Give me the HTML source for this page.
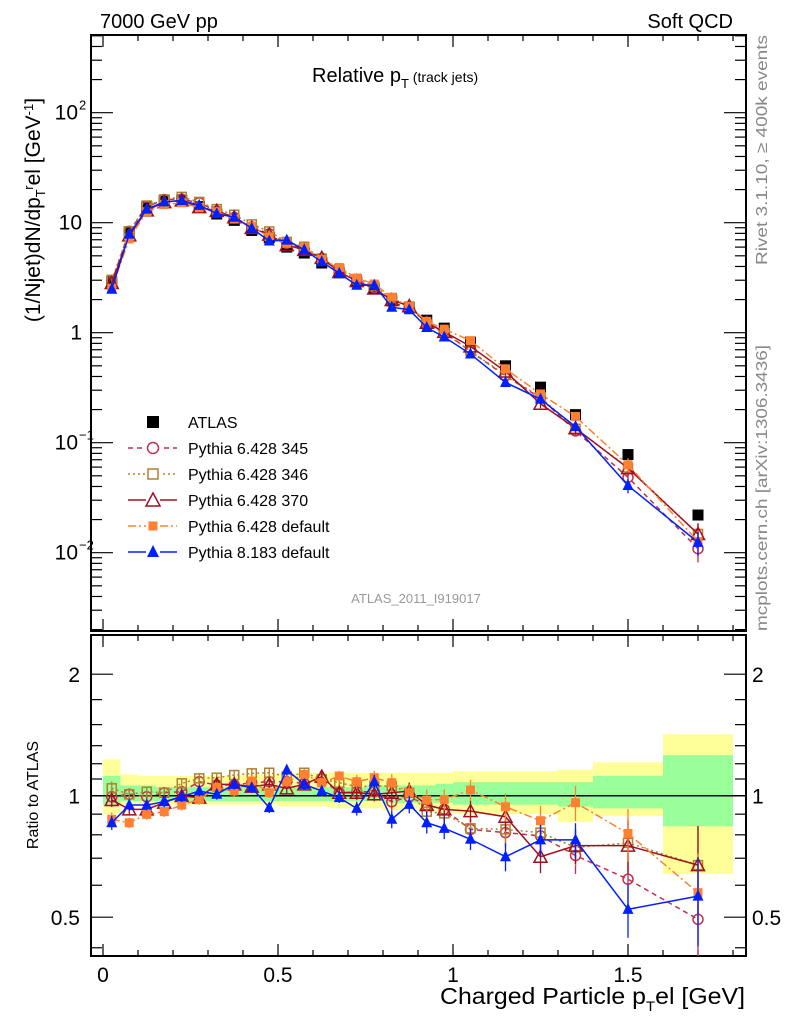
<!DOCTYPE html>
<html><head><meta charset="utf-8"><style>
body{margin:0;background:#fff;width:786px;height:1024px;overflow:hidden}
svg text{font-family:"Liberation Sans",sans-serif}
</style></head><body>
<svg id="c" width="786" height="1024" xmlns="http://www.w3.org/2000/svg"></svg>
<script>
const xCenters=[0.025,0.075,0.125,0.175,0.225,0.275,0.325,0.375,0.425,0.475,0.525,0.575,0.625,0.675,0.725,0.775,0.825,0.875,0.925,0.975,1.05,1.15,1.25,1.35,1.5,1.7];
const binEdges=[0,0.05,0.1,0.15,0.2,0.25,0.3,0.35,0.4,0.45,0.5,0.55,0.6,0.65,0.7,0.75,0.8,0.85,0.9,0.95,1.0,1.1,1.2,1.3,1.4,1.6,1.8];
const atlasValues=[2.9,8.3,14,16,16,14,12,10.5,8.5,7.3,6.0,5.3,4.3,3.5,2.9,2.5,1.95,1.7,1.3,1.1,0.82,0.5,0.32,0.18,0.078,0.022];
const ratio345=[0.994,1.008,0.994,1.017,1.023,1.083,1.063,1.063,1.077,1.083,1.083,1.073,1.098,1.017,1.023,1.023,0.966,0.994,0.948,0.925,0.825,0.810,0.795,0.711,0.621,0.494];
const ratio346=[1.043,1.008,1.023,1.017,1.073,1.104,1.108,1.125,1.136,1.140,1.115,1.140,1.098,1.077,1.053,1.057,1.057,1.017,0.913,0.904,0.830,0.825,0.810,0.744,0.764,0.673];
const ratio370=[0.976,0.925,0.925,0.961,0.998,0.989,1.067,1.067,1.053,1.067,1.043,1.067,1.115,1.017,1.017,1.008,1.017,1.027,0.948,0.925,0.916,0.887,0.706,0.752,0.752,0.673];
const ratioP6def=[0.874,0.857,0.899,0.913,0.948,0.979,1.047,1.027,1.087,1.017,1.083,1.129,1.077,1.119,1.083,1.108,1.077,1.017,0.976,0.979,1.033,0.939,0.867,0.961,0.806,0.575];
const ratioP8=[0.857,0.948,0.948,0.966,0.994,1.027,1.008,1.067,1.047,0.934,1.158,1.067,1.027,0.989,0.930,1.083,0.874,0.952,0.857,0.830,0.780,0.706,0.777,0.777,0.523,0.564];
const mcErr=[0.04,0.03,0.03,0.03,0.03,0.03,0.03,0.03,0.03,0.03,0.03,0.03,0.03,0.03,0.04,0.04,0.05,0.05,0.06,0.06,0.06,0.08,0.09,0.1,0.15,0.25];
const yellowUp=[1.23,1.13,1.12,1.12,1.12,1.12,1.12,1.12,1.13,1.13,1.14,1.14,1.14,1.14,1.14,1.14,1.14,1.14,1.14,1.14,1.15,1.15,1.15,1.16,1.21,1.42];
const yellowDn=[0.90,0.95,0.95,0.95,0.95,0.95,0.95,0.95,0.95,0.95,0.94,0.94,0.94,0.93,0.93,0.93,0.92,0.92,0.92,0.91,0.90,0.90,0.90,0.86,0.89,0.64];
const greenUp=[1.12,1.06,1.06,1.05,1.05,1.05,1.05,1.05,1.05,1.05,1.05,1.05,1.05,1.05,1.05,1.06,1.06,1.06,1.06,1.07,1.08,1.08,1.08,1.08,1.12,1.26];
const greenDn=[0.95,0.97,0.97,0.97,0.97,0.97,0.97,0.97,0.97,0.97,0.97,0.97,0.97,0.97,0.97,0.97,0.96,0.96,0.96,0.96,0.95,0.95,0.95,0.94,0.93,0.84];
const xTickLabels=["0","0.5","1","1.5"];

const NS="http://www.w3.org/2000/svg",svg=document.getElementById('c');
function el(t,a,p){const e=document.createElementNS(NS,t);for(const k in a)e.setAttribute(k,a[k]);(p||svg).appendChild(e);return e;}
const L=91,R=746,MT=35,MB=631,RT=635,RB=956;
const X=v=>103+v*350;
const Ym=v=>332.7-Math.log10(v)*110;
const Yr=v=>795.7-Math.log2(v)*121.5;
const defs=el('defs',{});
const c1=el('clipPath',{id:'cm'},defs);el('rect',{x:L,y:MT,width:R-L,height:MB-MT},c1);
const c2=el('clipPath',{id:'cr'},defs);el('rect',{x:L,y:RT,width:R-L,height:RB-RT},c2);
const gB=el('g',{'clip-path':'url(#cr)'});

for(let i=0;i<xCenters.length;i++){
 const x0=X(binEdges[i]),x1=X(binEdges[i+1]);
 const y=el('rect',{x:x0,y:Yr(yellowUp[i]),width:x1-x0,height:Yr(yellowDn[i])-Yr(yellowUp[i]),fill:'#ffff99'},gB);
 
 const g=el('rect',{x:x0,y:Yr(greenUp[i]),width:x1-x0,height:Yr(greenDn[i])-Yr(greenUp[i]),fill:'#99ff99'},gB);
 
}
el('line',{x1:L,x2:R,y1:Yr(1),y2:Yr(1),stroke:'#000','stroke-width':1.5});
for(const [t,b] of [[MT,MB],[RT,RB]]){
 const f=el('rect',{x:L,y:t,width:R-L,height:b-t,fill:'none',stroke:'#000','stroke-width':2});
 
 for(let v=0;v<=1.8001;v+=0.1){const x=X(v);const maj=Math.abs(v*2-Math.round(v*2))<1e-6;const s=maj?12:6;
  el('line',{x1:x,x2:x,y1:t,y2:t+s,stroke:'#000','stroke-width':1.2});
  el('line',{x1:x,x2:x,y1:b,y2:b-s,stroke:'#000','stroke-width':1.2});}
}
for(let d=-3;d<=2;d++)for(let m=1;m<10;m++){const v=m*Math.pow(10,d);const y=Ym(v);if(y<MT||y>MB)continue;const s=m==1?22:11;
 el('line',{x1:L,x2:L+s,y1:y,y2:y,stroke:'#000','stroke-width':1.2});el('line',{x1:R,x2:R-s,y1:y,y2:y,stroke:'#000','stroke-width':1.2});}
const ylabs=[[100,'10','2'],[10,'10',''],[1,'1',''],[0.1,'10','−1'],[0.01,'10','−2']];
for(const [v,b,e] of ylabs){const t=el('text',{x:e?78:82,y:Ym(v)+7,'font-size':21,'text-anchor':'end'});t.textContent=b;
 
 if(e){const s=el('text',{x:79,y:Ym(v)-3,'font-size':13});s.textContent=e;}}
for(const v of [0.42,0.5,0.6,0.7,0.8,0.9,1,1.1,1.2,1.33,1.5,1.73,2]){const y=Yr(v);const maj=(v==0.5||v==1||v==2);const s=maj?22:11;
 el('line',{x1:L,x2:L+s,y1:y,y2:y,stroke:'#000','stroke-width':1.2});el('line',{x1:R,x2:R-s,y1:y,y2:y,stroke:'#000','stroke-width':1.2});}
for(const v of [0.5,1,2]){const t=el('text',{x:80,y:Yr(v)+8,'font-size':21,'text-anchor':'end'});t.textContent=String(v);
 
 const t2=el('text',{x:752,y:Yr(v)+8,'font-size':21});t2.textContent=String(v);}
xTickLabels.forEach((s,i)=>{const t=el('text',{x:X(i*0.5),y:982,'font-size':21,'text-anchor':'middle'});t.textContent=s;
 });
function marker(type,x,y,col,g,sz){sz=sz||5.5;
 if(type=='sq')return el('rect',{x:x-sz,y:y-sz,width:2*sz,height:2*sz,fill:col},g);
 if(type=='osq')return el('rect',{x:x-sz+1,y:y-sz+1,width:2*sz-2,height:2*sz-2,fill:'none',stroke:col,'stroke-width':1.5},g);
 if(type=='oc')return el('circle',{cx:x,cy:y,r:sz-0.5,fill:'none',stroke:col,'stroke-width':1.5},g);
 if(type=='otri')return el('polygon',{points:`${x},${y-sz-1} ${x-sz-1},${y+sz} ${x+sz+1},${y+sz}`,fill:'none',stroke:col,'stroke-width':1.5},g);
 if(type=='fsq')return el('rect',{x:x-4.5,y:y-4.5,width:9,height:9,fill:col},g);
 if(type=='tri')return el('polygon',{points:`${x},${y-sz-1} ${x-sz},${y+sz-1} ${x+sz},${y+sz-1}`,fill:col},g);}
const series=[
 {name:'Pythia 6.428 345',r:ratio345,col:'#c03050',dash:'5,4',m:'oc',id:'p6-345'},
 {name:'Pythia 6.428 346',r:ratio346,col:'#b08030',dash:'2,3',m:'osq',id:'p6-346'},
 {name:'Pythia 6.428 370',r:ratio370,col:'#a01020',dash:'',m:'otri',id:'p6-370'},
 {name:'Pythia 6.428 default',r:ratioP6def,col:'#ff8030',dash:'8,3,2,3',m:'fsq',id:'p6-default'},
 {name:'Pythia 8.183 default',r:ratioP8,col:'#0020ff',dash:'',m:'tri',id:'p8-default'}];
const gA=el('g',{'clip-path':'url(#cm)'});
xCenters.forEach((x,i)=>{const p=marker('sq',X(x),Ym(atlasValues[i]),'#000',gA);});
series.forEach(s=>{
 const gm=el('g',{'clip-path':'url(#cm)'});
 const gr=el('g',{'clip-path':'url(#cr)'});
 const pm=xCenters.map((x,i)=>X(x)+','+Ym(atlasValues[i]*s.r[i])).join(' ');
 const pr=xCenters.map((x,i)=>X(x)+','+Yr(s.r[i])).join(' ');
 el('polyline',{points:pm,fill:'none',stroke:s.col,'stroke-width':1.5,'stroke-dasharray':s.dash},gm);
 el('polyline',{points:pr,fill:'none',stroke:s.col,'stroke-width':1.5,'stroke-dasharray':s.dash},gr);
 xCenters.forEach((x,i)=>{
  const v=atlasValues[i]*s.r[i],e=mcErr[i];
  el('line',{x1:X(x),x2:X(x),y1:Ym(v*(1+e)),y2:Ym(v*(1-e)),stroke:s.col,'stroke-width':1.3},gm);
  el('line',{x1:X(x),x2:X(x),y1:Yr(s.r[i]*(1+e)),y2:Yr(s.r[i]*(1-e)),stroke:s.col,'stroke-width':1.3},gr);
  const a=marker(s.m,X(x),Ym(v),s.col,gm);
  const b=marker(s.m,X(x),Yr(s.r[i]),s.col,gr);
 });
});
const gl=el('g',{});
const ly=[422,448,474,500,526,552];
marker('sq',153,ly[0],'#000',gl,6);
let t=el('text',{x:188,y:ly[0]+6,'font-size':16},gl);t.textContent='ATLAS';
series.forEach((s,i)=>{const y=ly[i+1];
 const g=el('g',{},gl);
 el('line',{x1:128,x2:177,y1:y,y2:y,stroke:s.col,'stroke-width':1.5,'stroke-dasharray':s.dash},g);
 el('rect',{x:146,y:y-7,width:14,height:14,fill:'#fff'},g);
 marker(s.m,153,y,s.col,g,6);
 const tt=el('text',{x:188,y:y+6,'font-size':16},g);tt.textContent=s.name;});
</script>
<svg width="786" height="1024" style="position:absolute;left:0;top:0" xmlns="http://www.w3.org/2000/svg">
<text x="100" y="28" font-size="20" font-family="Liberation Sans">7000 GeV pp</text>
<text x="733" y="28" font-size="20" text-anchor="end" font-family="Liberation Sans">Soft QCD</text>
<text x="312" y="82" font-size="20" font-family="Liberation Sans">Relative p<tspan font-size="13" dy="6">T</tspan><tspan font-size="14" dy="-6"> (track jets)</tspan></text>
<text x="416" y="603" font-size="13" fill="#999" text-anchor="middle" font-family="Liberation Sans">ATLAS_2011_I919017</text>
<text transform="translate(767,150) rotate(-90)" font-size="16" fill="#888" text-anchor="middle" textLength="230" lengthAdjust="spacingAndGlyphs" font-family="Liberation Sans">Rivet 3.1.10, ≥ 400k events</text>
<text transform="translate(767,488) rotate(-90)" font-size="16" fill="#888" text-anchor="middle" textLength="286" lengthAdjust="spacingAndGlyphs" font-family="Liberation Sans">mcplots.cern.ch [arXiv:1306.3436]</text>
<text transform="translate(40,210) rotate(-90)" font-size="21" text-anchor="middle" font-family="Liberation Sans">(1/Njet)dN/dp<tspan font-size="13" dy="5">T</tspan><tspan font-size="13" dy="-12">r</tspan><tspan dy="7">el [GeV</tspan><tspan font-size="13" dy="-7">-1</tspan><tspan dy="7">]</tspan></text>
<text transform="translate(38,795) rotate(-90)" font-size="16" text-anchor="middle" font-family="Liberation Sans">Ratio to ATLAS</text>
<text x="440" y="1004" font-size="23" textLength="305" lengthAdjust="spacingAndGlyphs" font-family="Liberation Sans">Charged Particle p<tspan font-size="14" dy="7">T</tspan><tspan dy="-7">el [GeV]</tspan></text>
</svg>
</body></html>
